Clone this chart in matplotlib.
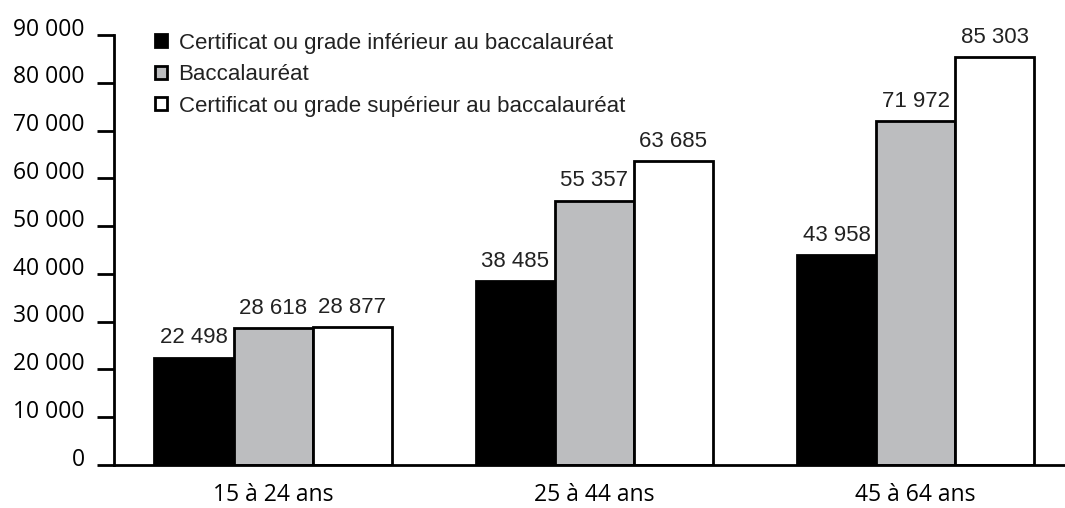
import matplotlib
matplotlib.use("Agg")
import matplotlib.pyplot as plt
from matplotlib.patches import Patch
from matplotlib.transforms import ScaledTranslation
import numpy as np

categories = ["15 à 24 ans", "25 à 44 ans", "45 à 64 ans"]
series_names = ["Certificat ou grade inférieur au baccalauréat",
                "Baccalauréat",
                "Certificat ou grade supérieur au baccalauréat"]
inferieur = [22498, 38485, 43958]
bac = [28618, 55357, 71972]
superieur = [28877, 63685, 85303]
yticks = [0, 10000, 20000, 30000, 40000, 50000, 60000, 70000, 80000, 90000]

colors = ["#000000", "#bcbdbf", "#ffffff"]

def fmt(v):
    return f"{v:,}".replace(",", " ")

fig = plt.figure(figsize=(10.65, 5.08), dpi=100)
ax = fig.add_axes([114/1065, 1 - 465/508, (1065-114)/1065, (465-35)/508])

x = np.arange(len(categories))
w = 0.246
for i, (vals, c) in enumerate(zip([inferieur, bac, superieur], colors)):
    bars = ax.bar(x + (i - 1) * w, vals, width=w, color=c, edgecolor="black",
                  linewidth=2, label=series_names[i])
    for b, v in zip(bars, vals):
        ax.text(b.get_x() + b.get_width() / 2, v + 1900, fmt(v), ha="center",
                va="bottom", fontsize=16, family="Liberation Sans", color="#222222")

ax.set_xlim(-0.495, 2.465)
ax.set_ylim(0, 90000)
ax.set_yticks(yticks)
ax.set_yticklabels([fmt(v) for v in yticks], fontsize=16.5, family="Open Sans")
ax.set_xticks(x)
ax.set_xticklabels(categories, fontsize=16.5, family="Open Sans")
ax.tick_params(axis="x", length=0, pad=13)
ax.tick_params(axis="y", length=12, width=2, direction="out", pad=9)
for lab in ax.get_yticklabels():
    lab.set_transform(lab.get_transform() + ScaledTranslation(0, 6/72, fig.dpi_scale_trans))
for s in ["top", "right"]:
    ax.spines[s].set_visible(False)
for s in ["left", "bottom"]:
    ax.spines[s].set_linewidth(2)

handles = [Patch(facecolor=c, edgecolor="black", linewidth=2) for c in colors]
leg = ax.legend(handles, series_names, loc="upper left", bbox_to_anchor=(0.0225, 1.052),
                frameon=False, handlelength=0.54, handleheight=0.54, handletextpad=0.5,
                labelspacing=0.47, prop={"family": "Liberation Sans", "size": 16})
for t in leg.get_texts():
    t.set_color("#222222")

fig.savefig("out.png", dpi=100)
